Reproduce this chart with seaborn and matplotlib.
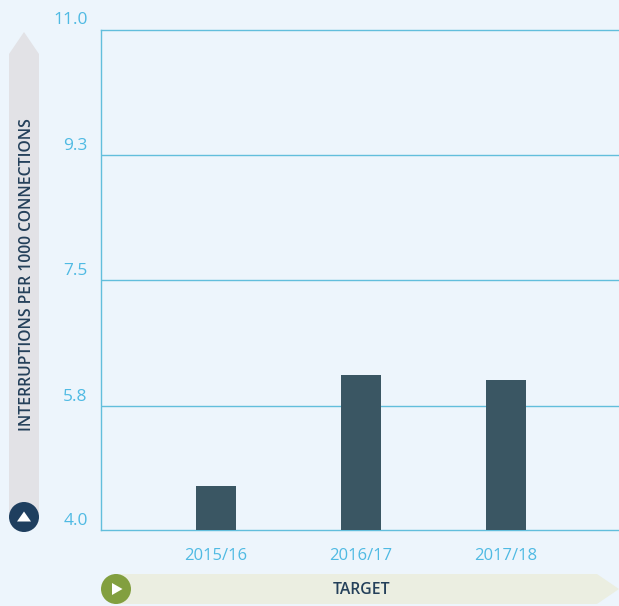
import matplotlib
matplotlib.use("Agg")
import matplotlib.pyplot as plt
import seaborn as sns
import pandas as pd
from matplotlib.patches import Polygon, Circle
from matplotlib.transforms import Affine2D, ScaledTranslation

years = ["2015/16", "2016/17", "2017/18"]
values = [4.61, 6.17, 6.10]
y_ticks = [4.0, 5.74, 7.49, 9.25, 11.0]
y_tick_labels = ["4.0", "5.8", "7.5", "9.3", "11.0"]
y_title = "INTERRUPTIONS PER 1000 CONNECTIONS"
x_title = "TARGET"

BG = "#EDF5FC"
LINE = "#62BEDC"
TEXT = "#4FBAE3"
BAR = "#3A5663"
DARK = "#24405A"

W, H = 619, 606
sns.set_theme(style="white")
plt.rcParams["font.family"] = ["Open Sans", "DejaVu Sans"]

fig = plt.figure(figsize=(W / 100, H / 100), dpi=100, facecolor=BG)
ax = fig.add_axes([101 / W, 1 - 530 / H, 518 / W, 500.5 / H], facecolor=BG)

df = pd.DataFrame({"year": years, "value": values})
sns.barplot(data=df, x="year", y="value", color=BAR, saturation=1, width=0.276,
            linewidth=0, edgecolor="none", ax=ax, zorder=3)

ax.set_xlim(-0.793, 2.779)
ax.set_ylim(4, 11)
ax.set_yticks(y_ticks, y_tick_labels)
ax.tick_params(axis="y", direction="out", length=36, width=1.0, color=LINE, pad=-26.5,
               labelsize=12.5, labelcolor=TEXT)
ax.tick_params(axis="x", length=0, pad=13, labelsize=12, labelcolor=TEXT)
lift = ScaledTranslation(0, 1 / 100, fig.dpi_scale_trans)
for t in ax.yaxis.get_major_ticks():
    t.label1.set_verticalalignment("bottom")
    t.label1.set_transform(t.label1.get_transform() + lift)
for i in (0, len(y_ticks) - 1):
    ax.yaxis.get_major_ticks()[i].tick1line.set_visible(False)
for y in y_ticks[1:-1]:
    ax.axhline(y, color=LINE, lw=1.0, zorder=1)
for side in ("left", "top", "bottom"):
    ax.spines[side].set_visible(True)
    ax.spines[side].set_color(LINE)
    ax.spines[side].set_linewidth(1)
ax.spines["right"].set_visible(False)

ax.set_ylabel(y_title, fontsize=11.3, fontweight="semibold", color=DARK, labelpad=0,
              va="center", ha="center")
ax.yaxis.set_label_coords((27 - 101) / 518, (530 - 274.5) / 500.5)
ax.set_xlabel(x_title, fontsize=11.3, fontweight="semibold", color=DARK)
ax.xaxis.set_label_coords((362 - 101) / 518, -(590 - 530) / 500.5)
ax.xaxis.label.set_verticalalignment("center")
ax.xaxis.label.set_zorder(5)

px = Affine2D().scale(1 / W, -1 / H).translate(0, 1) + fig.transFigure

def add(patch):
    patch.set_transform(px)
    patch.set_clip_on(False)
    fig.add_artist(patch)

# decorative axis arrows, behind the labels
for p in [
    Polygon([(9, 516), (9, 54), (24, 32), (39, 54), (39, 516)], closed=True, fc="#E2E2E6", ec="none", zorder=-2),
    Polygon([(116, 574), (597, 574), (619, 589), (597, 604), (116, 604)], closed=True, fc="#EBEEE1", ec="none", zorder=-2),
    Circle((24, 517), 15, fc="#1F3F5F", ec="none", zorder=-1),
    Polygon([(17, 521.5), (24, 511.5), (31, 521.5)], closed=True, fc="white", ec="none", zorder=0),
    Circle((116, 589), 15, fc="#829F3F", ec="none", zorder=-1),
    Polygon([(112, 583), (122.5, 589), (112, 595)], closed=True, fc="white", ec="none", zorder=0),
]:
    add(p)

fig.savefig("out.png", dpi=100, facecolor=BG)
